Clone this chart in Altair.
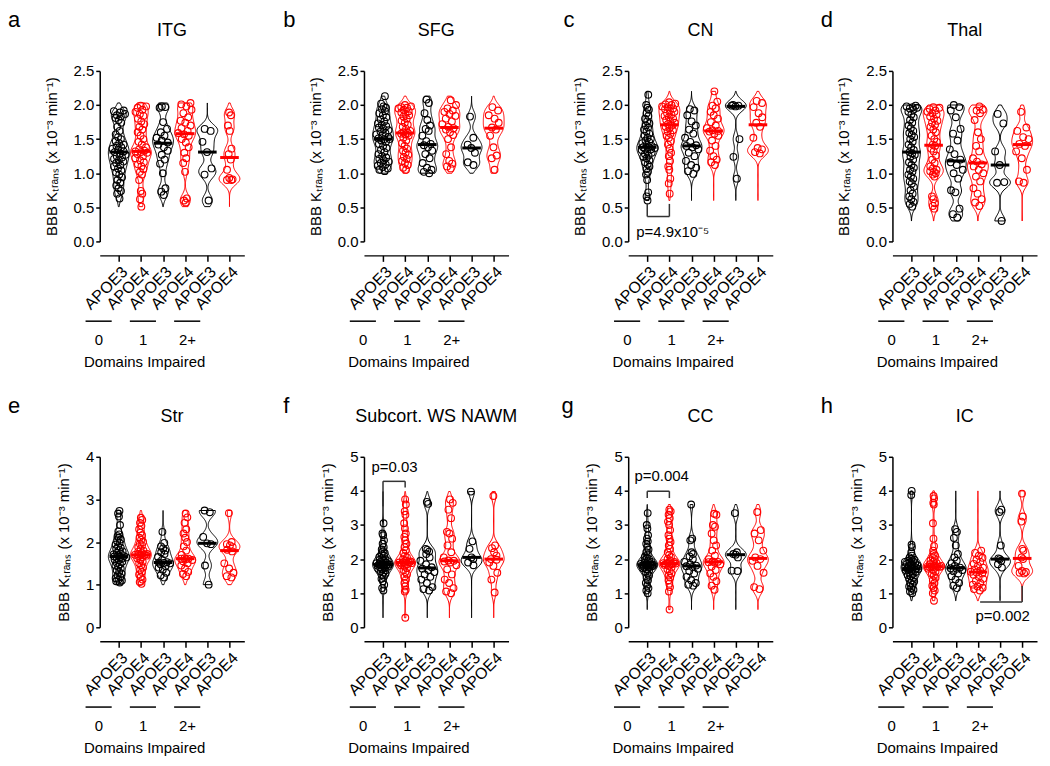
import altair as alt
import pandas as pd

FONT = "Liberation Sans"
BLACK = "#000000"
RED = "#ff0000"
GENO = ["APOE3", "APOE4", "APOE3", "APOE4", "APOE3", "APOE4"]
GROUP_LABELS = ["0", "1", "2+"]
GROUP_CENTERS = [0.5, 2.5, 4.5]
X_TICKS = [0, 1, 2, 3, 4, 5]
Y_TITLE = "BBB K\u209c\u1d63\u2090\u2099\u209b (x 10\u207b\u00b3 min\u207b\u00b9)"
W, H = 145, 171

# ---- values (x 10^-3 min^-1) ----
ITG = [
    [0.63, 0.70, 0.74, 0.78, 0.82, 0.86, 0.90, 0.94, 0.98, 1.01, 1.04, 1.07, 1.10, 1.12, 1.15, 1.17, 1.19, 1.21, 1.23, 1.25, 1.27, 1.29, 1.31, 1.32, 1.34, 1.36, 1.38, 1.40, 1.42, 1.44, 1.47, 1.50, 1.53, 1.57, 1.62, 1.68, 1.74, 1.78, 1.81, 1.83, 1.85, 1.87, 1.89, 1.91, 1.92],
    [0.51, 0.62, 0.70, 0.74, 0.90, 0.98, 1.02, 1.06, 1.10, 1.13, 1.16, 1.19, 1.22, 1.25, 1.28, 1.30, 1.31, 1.32, 1.33, 1.35, 1.38, 1.42, 1.46, 1.50, 1.55, 1.60, 1.64, 1.68, 1.72, 1.76, 1.80, 1.84, 1.87, 1.90, 1.93, 1.96, 1.98, 1.99],
    [0.68, 0.73, 0.78, 1.00, 1.14, 1.20, 1.27, 1.33, 1.38, 1.42, 1.45, 1.48, 1.52, 1.55, 1.60, 1.65, 1.75, 1.96, 1.97, 1.98],
    [0.57, 0.60, 0.63, 1.02, 1.15, 1.22, 1.30, 1.38, 1.45, 1.50, 1.55, 1.57, 1.59, 1.62, 1.66, 1.70, 1.74, 1.77, 1.82, 1.88, 1.93, 1.98, 2.01, 2.03],
    [0.60, 0.98, 1.07, 1.31, 1.46, 1.62, 1.65],
    [0.90, 0.90, 0.91, 0.93, 1.05, 1.20, 1.28, 1.36, 1.62, 1.70, 1.85, 1.89],
]
SFG = [
    [1.03, 1.05, 1.07, 1.09, 1.11, 1.13, 1.15, 1.17, 1.19, 1.21, 1.23, 1.25, 1.28, 1.31, 1.34, 1.37, 1.40, 1.43, 1.46, 1.48, 1.50, 1.50, 1.51, 1.53, 1.55, 1.57, 1.59, 1.61, 1.63, 1.65, 1.67, 1.69, 1.71, 1.73, 1.76, 1.79, 1.82, 1.85, 1.88, 1.91, 1.94, 1.96, 1.98, 2.02, 2.13],
    [1.05, 1.08, 1.12, 1.15, 1.18, 1.21, 1.24, 1.27, 1.30, 1.33, 1.36, 1.40, 1.44, 1.48, 1.52, 1.55, 1.57, 1.58, 1.59, 1.60, 1.62, 1.65, 1.68, 1.71, 1.74, 1.77, 1.80, 1.83, 1.85, 1.87, 1.89, 1.91, 1.93, 1.95, 1.96, 1.97, 1.98, 2.00],
    [1.00, 1.02, 1.05, 1.08, 1.15, 1.22, 1.28, 1.33, 1.38, 1.41, 1.43, 1.47, 1.55, 1.62, 1.65, 1.70, 1.78, 1.88, 2.03, 2.08],
    [1.07, 1.10, 1.14, 1.18, 1.28, 1.38, 1.50, 1.56, 1.60, 1.64, 1.66, 1.68, 1.72, 1.76, 1.80, 1.84, 1.87, 1.90, 1.92, 1.95, 2.00, 2.07],
    [1.12, 1.16, 1.30, 1.37, 1.42, 1.52, 1.83],
    [1.05, 1.22, 1.26, 1.38, 1.55, 1.64, 1.67, 1.74, 1.80, 1.85, 1.92, 1.97],
]
CN = [
    [0.60, 0.66, 0.72, 0.90, 0.98, 1.02, 1.06, 1.10, 1.13, 1.16, 1.19, 1.22, 1.24, 1.26, 1.28, 1.30, 1.32, 1.34, 1.35, 1.36, 1.37, 1.38, 1.38, 1.40, 1.42, 1.44, 1.46, 1.48, 1.50, 1.52, 1.55, 1.58, 1.61, 1.64, 1.67, 1.70, 1.73, 1.76, 1.80, 1.84, 1.88, 1.93, 1.96, 2.00, 2.15],
    [0.70, 0.85, 0.92, 1.05, 1.10, 1.18, 1.25, 1.30, 1.36, 1.42, 1.47, 1.52, 1.55, 1.58, 1.61, 1.63, 1.66, 1.68, 1.70, 1.72, 1.74, 1.76, 1.78, 1.80, 1.82, 1.84, 1.86, 1.88, 1.90, 1.92, 1.94, 1.95, 1.97, 1.98, 2.00, 2.01, 2.02, 2.04],
    [0.99, 1.03, 1.08, 1.12, 1.18, 1.25, 1.30, 1.35, 1.38, 1.40, 1.41, 1.46, 1.52, 1.58, 1.64, 1.70, 1.76, 1.85, 1.92, 1.94],
    [1.12, 1.16, 1.20, 1.25, 1.33, 1.40, 1.48, 1.55, 1.58, 1.61, 1.62, 1.63, 1.66, 1.70, 1.75, 1.80, 1.85, 1.90, 1.95, 1.99, 2.05, 2.20],
    [0.92, 1.24, 1.50, 1.98, 1.99, 1.99, 2.00],
    [1.29, 1.31, 1.35, 1.37, 1.52, 1.68, 1.74, 1.82, 1.88, 1.97, 2.03, 2.06],
]
THAL = [
    [0.51, 0.55, 0.58, 0.62, 0.66, 0.70, 0.75, 0.80, 0.85, 0.88, 0.92, 0.95, 0.98, 1.02, 1.05, 1.08, 1.12, 1.16, 1.20, 1.24, 1.27, 1.29, 1.31, 1.34, 1.38, 1.42, 1.46, 1.50, 1.53, 1.56, 1.59, 1.62, 1.66, 1.70, 1.74, 1.78, 1.82, 1.86, 1.90, 1.93, 1.95, 1.96, 1.97, 1.98, 1.99],
    [0.48, 0.52, 0.56, 0.62, 0.66, 0.95, 0.98, 1.00, 1.02, 1.03, 1.05, 1.07, 1.10, 1.15, 1.20, 1.26, 1.32, 1.36, 1.40, 1.42, 1.46, 1.50, 1.55, 1.60, 1.64, 1.68, 1.71, 1.74, 1.77, 1.80, 1.83, 1.86, 1.88, 1.90, 1.92, 1.94, 1.96, 1.97],
    [0.35, 0.40, 0.48, 0.72, 0.75, 0.92, 1.00, 1.05, 1.12, 1.16, 1.20, 1.28, 1.35, 1.48, 1.58, 1.65, 1.82, 1.92, 1.97, 2.00],
    [0.52, 0.57, 0.62, 0.70, 0.78, 0.88, 0.95, 1.00, 1.05, 1.10, 1.13, 1.17, 1.22, 1.32, 1.40, 1.50, 1.60, 1.78, 1.88, 1.92, 1.93, 1.98],
    [0.30, 0.86, 0.87, 1.12, 1.32, 1.73, 1.87],
    [0.86, 0.88, 1.05, 1.22, 1.32, 1.40, 1.43, 1.50, 1.53, 1.62, 1.67, 1.90],
]
STR = [
    [1.05, 1.08, 1.10, 1.12, 1.15, 1.18, 1.22, 1.26, 1.30, 1.34, 1.38, 1.42, 1.45, 1.48, 1.51, 1.54, 1.57, 1.59, 1.61, 1.63, 1.64, 1.65, 1.66, 1.67, 1.69, 1.71, 1.73, 1.75, 1.78, 1.81, 1.84, 1.87, 1.90, 1.94, 1.98, 2.02, 2.06, 2.10, 2.14, 2.18, 2.25, 2.40, 2.60, 2.67, 2.73],
    [1.02, 1.06, 1.12, 1.18, 1.24, 1.30, 1.35, 1.40, 1.45, 1.50, 1.54, 1.58, 1.62, 1.65, 1.67, 1.68, 1.69, 1.70, 1.70, 1.71, 1.72, 1.74, 1.77, 1.80, 1.84, 1.88, 1.92, 1.96, 2.00, 2.05, 2.10, 2.16, 2.22, 2.30, 2.38, 2.45, 2.52, 2.57],
    [1.17, 1.22, 1.28, 1.35, 1.40, 1.44, 1.48, 1.50, 1.51, 1.52, 1.53, 1.58, 1.65, 1.72, 1.76, 1.80, 1.85, 1.90, 1.98, 2.24],
    [1.20, 1.25, 1.30, 1.38, 1.45, 1.50, 1.55, 1.58, 1.60, 1.61, 1.61, 1.62, 1.70, 1.80, 1.90, 2.00, 2.10, 2.20, 2.30, 2.45, 2.58, 2.67],
    [1.00, 1.45, 1.95, 1.97, 2.12, 2.70, 2.74],
    [1.17, 1.20, 1.28, 1.38, 1.50, 1.78, 1.82, 1.88, 1.92, 1.95, 2.00, 2.68],
]
NAWM = [
    [1.08, 1.15, 1.25, 1.35, 1.42, 1.48, 1.53, 1.57, 1.61, 1.64, 1.67, 1.70, 1.72, 1.74, 1.76, 1.78, 1.80, 1.81, 1.82, 1.83, 1.84, 1.84, 1.84, 1.85, 1.86, 1.88, 1.90, 1.92, 1.94, 1.96, 1.98, 2.00, 2.03, 2.06, 2.10, 2.14, 2.18, 2.22, 2.28, 2.35, 2.45, 2.55, 2.70, 2.75, 3.05],
    [0.28, 1.05, 1.10, 1.20, 1.30, 1.40, 1.48, 1.55, 1.62, 1.68, 1.74, 1.78, 1.82, 1.85, 1.87, 1.88, 1.89, 1.90, 1.90, 1.91, 1.93, 1.96, 2.00, 2.05, 2.10, 2.18, 2.26, 2.35, 2.45, 2.55, 2.65, 2.75, 2.90, 3.05, 3.30, 3.40, 3.60, 3.75],
    [1.08, 1.12, 1.18, 1.30, 1.40, 1.48, 1.55, 1.62, 1.68, 1.72, 1.76, 1.85, 1.95, 2.05, 2.15, 2.22, 2.27, 2.30, 3.62, 3.68],
    [1.00, 1.05, 1.15, 1.30, 1.40, 1.55, 1.70, 1.82, 1.90, 1.93, 1.95, 1.96, 2.05, 2.20, 2.40, 2.60, 2.75, 2.80, 3.20, 3.45, 3.65, 3.75],
    [1.82, 1.90, 2.00, 2.05, 2.30, 2.52, 3.98],
    [1.02, 1.40, 1.60, 1.80, 1.90, 1.98, 2.00, 2.10, 2.20, 2.32, 2.40, 3.85],
]
CC = [
    [1.00, 1.08, 1.15, 1.22, 1.30, 1.38, 1.45, 1.52, 1.58, 1.62, 1.66, 1.70, 1.73, 1.75, 1.77, 1.79, 1.80, 1.81, 1.82, 1.82, 1.83, 1.83, 1.83, 1.84, 1.85, 1.86, 1.88, 1.90, 1.92, 1.94, 1.97, 2.00, 2.04, 2.08, 2.13, 2.20, 2.28, 2.36, 2.45, 2.52, 2.60, 2.70, 2.90, 3.00, 3.35],
    [0.52, 1.05, 1.18, 1.28, 1.38, 1.46, 1.52, 1.58, 1.64, 1.70, 1.75, 1.80, 1.83, 1.85, 1.86, 1.87, 1.87, 1.88, 1.88, 1.89, 1.92, 1.96, 2.00, 2.06, 2.12, 2.20, 2.30, 2.40, 2.50, 2.60, 2.70, 2.85, 3.00, 3.10, 3.20, 3.30, 3.40, 3.45],
    [1.22, 1.25, 1.30, 1.38, 1.48, 1.58, 1.65, 1.72, 1.77, 1.79, 1.81, 1.85, 1.92, 2.00, 2.08, 2.15, 2.20, 2.55, 2.60, 3.60],
    [1.10, 1.22, 1.35, 1.48, 1.58, 1.68, 1.78, 1.85, 1.90, 1.91, 1.92, 1.93, 2.00, 2.10, 2.25, 2.40, 2.55, 2.75, 2.95, 3.00, 3.30, 3.33],
    [1.65, 1.66, 2.05, 2.13, 2.15, 2.20, 3.35],
    [1.12, 1.18, 1.60, 1.80, 1.95, 2.00, 2.05, 2.25, 2.55, 2.75, 2.85, 3.38],
]
IC = [
    [1.00, 1.05, 1.10, 1.15, 1.20, 1.25, 1.30, 1.34, 1.38, 1.42, 1.46, 1.50, 1.53, 1.56, 1.59, 1.62, 1.65, 1.67, 1.69, 1.70, 1.71, 1.72, 1.72, 1.73, 1.74, 1.76, 1.78, 1.80, 1.82, 1.84, 1.86, 1.88, 1.90, 1.92, 1.94, 1.96, 1.98, 2.00, 2.05, 2.10, 2.20, 2.35, 2.42, 3.88, 4.00],
    [0.78, 1.00, 1.08, 1.15, 1.22, 1.30, 1.38, 1.45, 1.52, 1.58, 1.63, 1.68, 1.72, 1.75, 1.76, 1.77, 1.78, 1.78, 1.78, 1.79, 1.80, 1.82, 1.85, 1.88, 1.92, 1.96, 2.00, 2.05, 2.10, 2.15, 2.25, 2.38, 2.60, 3.05, 3.60, 3.65, 3.78, 3.85],
    [1.15, 1.22, 1.30, 1.40, 1.50, 1.58, 1.64, 1.68, 1.72, 1.73, 1.75, 1.80, 1.88, 1.95, 2.05, 2.15, 2.40, 2.62, 2.80, 2.88],
    [1.08, 1.12, 1.16, 1.20, 1.25, 1.30, 1.36, 1.42, 1.48, 1.54, 1.58, 1.61, 1.63, 1.66, 1.70, 1.75, 1.80, 1.86, 1.92, 1.98, 2.04, 2.10, 2.18, 2.25],
    [1.75, 1.85, 1.95, 2.00, 2.02, 2.40, 3.38, 3.45],
    [1.58, 1.60, 1.62, 1.65, 1.80, 2.00, 2.05, 2.25, 2.30, 3.10, 3.25, 3.92],
]

# medians (thick bars)
MED_ITG = [1.31, 1.32, 1.44, 1.58, 1.31, 1.23]
MED_SFG = [1.50, 1.59, 1.42, 1.67, 1.37, 1.66]
MED_CN = [1.38, 1.71, 1.40, 1.62, 1.98, 1.71]
MED_THAL = [1.31, 1.41, 1.18, 1.15, 1.12, 1.42]
MED_STR = [1.66, 1.70, 1.52, 1.61, 1.97, 1.80]
MED_NAWM = [1.84, 1.90, 1.74, 1.95, 2.05, 2.00]
MED_CC = [1.83, 1.87, 1.80, 1.92, 2.13, 2.02]
MED_IC = [1.72, 1.78, 1.74, 1.62, 2.00, 2.02]

PANELS = [
    dict(letter="a", title="ITG", groups=ITG, med=MED_ITG, ymax=2.5, yticks=[0, 0.5, 1, 1.5, 2, 2.5], fmt=".1f", bw=0.08, ldx=-92),
    dict(letter="b", title="SFG", groups=SFG, med=MED_SFG, ymax=2.5, yticks=[0, 0.5, 1, 1.5, 2, 2.5], fmt=".1f", bw=0.08, ldx=-81),
    dict(letter="c", title="CN", groups=CN, med=MED_CN, ymax=2.5, yticks=[0, 0.5, 1, 1.5, 2, 2.5], fmt=".1f", bw=0.08, ldx=-65,
         brackets=[(0, 1, 0.365, 0.365), (0, 0, 0.365, 0.55), (1, 1, 0.365, 0.55)],
         ptext=[("p=4.9x10\u207b\u2075", -0.5, 0.136, "left")]),
    dict(letter="d", title="Thal", groups=THAL, med=MED_THAL, ymax=2.5, yticks=[0, 0.5, 1, 1.5, 2, 2.5], fmt=".1f", bw=0.08, ldx=-72),
    dict(letter="e", title="Str", groups=STR, med=MED_STR, ymax=4, yticks=[0, 1, 2, 3, 4], fmt="d", bw=0.13, ldx=-92),
    dict(letter="f", title="Subcort. WS NAWM", groups=NAWM, med=MED_NAWM, ymax=5, yticks=[0, 1, 2, 3, 4, 5], fmt="d", bw=0.16, ldx=-81,
         brackets=[(0, 1, 4.28, 4.28), (0, 0, 3.55, 4.28), (1, 1, 4.10, 4.28)],
         ptext=[("p=0.03", 0.52, 4.70, "center")]),
    dict(letter="g", title="CC", groups=CC, med=MED_CC, ymax=5, yticks=[0, 1, 2, 3, 4, 5], fmt="d", bw=0.16, ldx=-67,
         brackets=[(0, 1, 3.99, 3.99), (0, 0, 3.79, 3.99), (1, 1, 3.79, 3.99)],
         ptext=[("p=0.004", -0.58, 4.44, "left")]),
    dict(letter="h", title="IC", groups=IC, med=MED_IC, ymax=5, yticks=[0, 1, 2, 3, 4, 5], fmt="d", bw=0.16, ldx=-72,
         brackets=[(3.1, 5, 0.74, 0.74), (5, 5, 0.74, 1.21)],
         ptext=[("p=0.002", 4.12, 0.33, "center")]),
]


def make_panel(p):
    rows = [{"gid": g, "geno": GENO[g], "value": v} for g, vals in enumerate(p["groups"]) for v in vals]
    df = pd.DataFrame(rows)
    xs = alt.Scale(domain=[-0.86, 5.67], nice=False, zero=False)
    ys = alt.Scale(domain=[0, p["ymax"]], nice=False, zero=True)
    cs = alt.Scale(domain=["APOE3", "APOE4"], range=[BLACK, RED])
    stroke = alt.Stroke("geno:N", scale=cs, legend=None)

    yaxis = dict(values=p["yticks"], tickCount=len(p["yticks"]), format=p["fmt"], title=Y_TITLE,
                 tickSize=4, labelPadding=2, titlePadding=14, grid=False, labelOverlap=False)
    xaxis = dict(values=X_TICKS, tickCount=7, labelExpr="datum.value % 2 == 0 ? 'APOE3' : 'APOE4'",
                 labelAngle=-45, labelAlign="right", labelBaseline="top", offset=14,
                 tickSize=6, labelPadding=2, labelFontSize=16, title="", grid=False,
                 labelOverlap=False, labelFlush=False)

    def X(field):
        return alt.X(field, scale=xs, axis=alt.Axis(**xaxis))

    def Y(field):
        return alt.Y(field, scale=ys, axis=alt.Axis(**yaxis))

    med_df = pd.DataFrame({"gid": list(range(6)), "geno": GENO, "median": p["med"]})

    violin = (
        alt.Chart(df)
        .transform_density("value", groupby=["gid", "geno"], bandwidth=p["bw"], steps=120)
        .transform_joinaggregate(maxd="max(density)", groupby=["gid"])
        .transform_calculate(xl="datum.gid - 0.47*datum.density/datum.maxd",
                             xr="datum.gid + 0.47*datum.density/datum.maxd")
        .mark_area(orient="horizontal", fill="white", strokeWidth=1)
        .encode(y=Y("value:Q"), x=X("xl:Q"), x2="xr:Q", stroke=stroke, detail="gid:N")
    )

    span_min = 0.03 * p["ymax"]
    points = (
        alt.Chart(df)
        .transform_window(rank="row_number()", groupby=["gid"], sort=[alt.SortField("value")])
        .transform_window(lo="min(value)", hi="max(value)", cnt="count()", frame=[-4, 4],
                          groupby=["gid"], sort=[alt.SortField("value")])
        .transform_calculate(dens=f"datum.cnt / max(datum.hi - datum.lo, {span_min})")
        .transform_joinaggregate(maxdn="max(dens)", groupby=["gid"])
        .transform_calculate(xo="datum.gid + 0.36*(datum.dens/datum.maxdn)*((((datum.rank*0.618034) % 1)*2) - 1)")
        .mark_point(shape="circle", filled=False, size=46, strokeWidth=1.1, opacity=1)
        .encode(x=X("xo:Q"), y=Y("value:Q"), stroke=stroke)
    )

    med = (
        alt.Chart(med_df)
        .transform_calculate(m0="datum.gid - 0.42", m1="datum.gid + 0.42")
        .mark_rule(strokeWidth=3)
        .encode(x=X("m0:Q"), x2="m1:Q", y=Y("median:Q"), stroke=stroke)
    )

    grp_df = pd.DataFrame({"label": GROUP_LABELS, "c": GROUP_CENTERS})
    glines = (
        alt.Chart(grp_df)
        .transform_calculate(g0="datum.c - 2.0", g1="datum.c - 0.82")
        .mark_rule(strokeWidth=1.5, color="black")
        .encode(x=X("g0:Q"), x2="g1:Q", y=alt.value(251))
    )
    glabels = (
        alt.Chart(grp_df)
        .transform_calculate(gx="datum.c - 1.4")
        .mark_text(font=FONT, fontSize=15, baseline="middle", align="center", color="black")
        .encode(x=X("gx:Q"), y=alt.value(270), text="label:N")
    )
    dom = (
        alt.Chart(pd.DataFrame({"t": ["Domains Impaired"], "x": [1.17]}))
        .mark_text(font=FONT, fontSize=15, baseline="middle", align="center", color="black")
        .encode(x=X("x:Q"), y=alt.value(292), text="t:N")
    )
    letter = (
        alt.Chart(pd.DataFrame({"t": [p["letter"]]}))
        .mark_text(font=FONT, fontSize=22, baseline="alphabetic", align="left", color="black")
        .encode(x=alt.value(p["ldx"]), y=alt.value(-44), text="t:N")
    )
    title = (
        alt.Chart(pd.DataFrame({"t": [p["title"]]}))
        .mark_text(font=FONT, fontSize=18, baseline="middle", align="center", color="black")
        .encode(x=alt.value(W / 2), y=alt.value(-40), text="t:N")
    )
    layers = [violin, points, med, glines, glabels, dom, letter, title]

    if p.get("brackets"):
        bdf = pd.DataFrame(p["brackets"], columns=["x1", "x2", "y1", "y2"])
        layers.append(
            alt.Chart(bdf).mark_rule(strokeWidth=1.5, color="#333333")
            .encode(x=X("x1:Q"), x2="x2:Q", y=Y("y1:Q"), y2="y2:Q")
        )
    for (txt, tx, ty, al) in p.get("ptext", []):
        layers.append(
            alt.Chart(pd.DataFrame({"t": [txt], "x": [tx], "y": [ty]}))
            .mark_text(font=FONT, fontSize=15, baseline="middle", align=al, color="black")
            .encode(x=X("x:Q"), y=Y("y:Q"), text="t:N")
        )
    return alt.layer(*layers).properties(width=W, height=H)


chart = (
    alt.concat(*[make_panel(p) for p in PANELS], columns=4, spacing={"row": 216, "column": 120}, bounds="flush")
    .properties(padding={"left": 0, "top": 0, "right": 5, "bottom": 5})
    .configure_view(stroke=None)
    .configure_axis(domainColor="black", tickColor="black", labelColor="black", titleColor="black",
                    labelFont=FONT, titleFont=FONT, labelFontSize=15, titleFontSize=15,
                    titleFontWeight="normal", domainWidth=1.5, tickWidth=1.5)
)

chart.save("out.html", embed_options={"renderer": "svg", "actions": False})
